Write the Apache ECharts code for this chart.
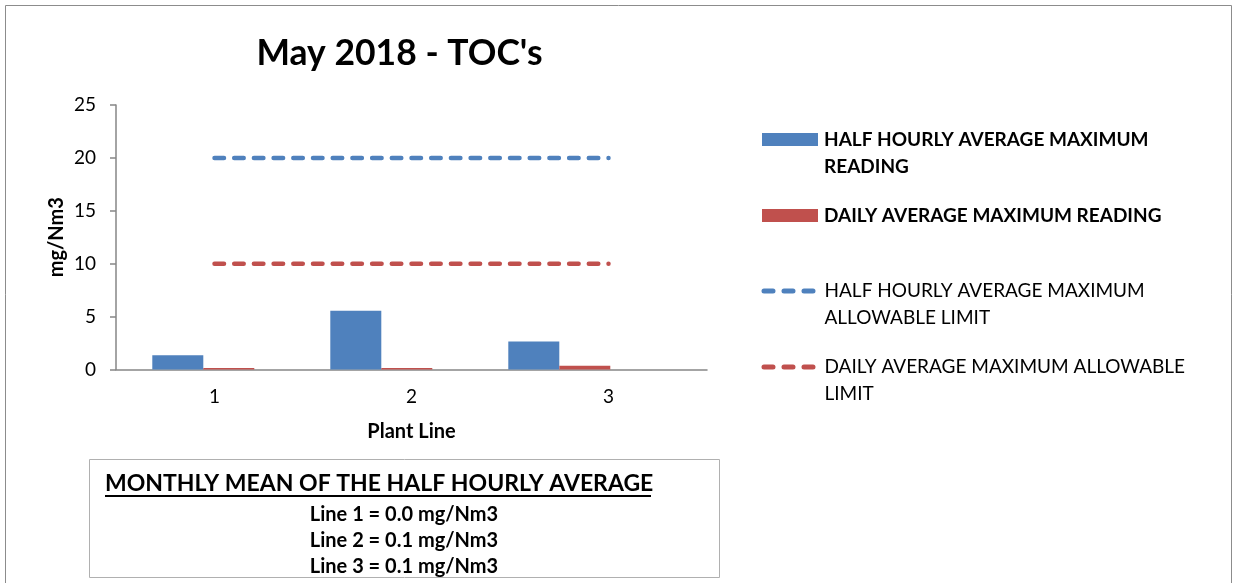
<!DOCTYPE html>
<html><head><meta charset="utf-8">
<script src="https://cdn.jsdelivr.net/npm/echarts@6/dist/echarts.min.js"></script>
<style>html,body{margin:0;padding:0;background:#fff}#c{width:1238px;height:583px}</style>
</head><body><div id="c"></div>
<script>
var categories = ['1', '2', '3'];
var halfHourlyMax = [1.35, 5.55, 2.65];
var dailyMax = [0.15, 0.15, 0.35];
var halfHourlyLimit = [20, 20, 20];
var dailyLimit = [10, 10, 10];
var yTicks = [0, 5, 10, 15, 20, 25];
var meanLines = ['Line 1 = 0.0 mg/Nm3', 'Line 2 = 0.1 mg/Nm3', 'Line 3 = 0.1 mg/Nm3'];
var seriesNames = ['HALF HOURLY AVERAGE MAXIMUM\nREADING', 'DAILY AVERAGE MAXIMUM READING', 'HALF HOURLY AVERAGE MAXIMUM\nALLOWABLE LIMIT', 'DAILY AVERAGE MAXIMUM ALLOWABLE\nLIMIT'];

var FONT = 'Lato';
var BLUE = '#4f81bd', RED = '#c0504d', AXIS = '#868686';
var chart = echarts.init(document.getElementById('c'));

function legendAt(name, top, bold, isBar, twoLine, color) {
  var l = {
    data: [isBar ? {name: name, icon: 'rect'} : {name: name, itemStyle: {opacity: 0, borderWidth: 0}}],
    left: isBar ? 757 : 756.5,
    top: top,
    itemWidth: isBar ? 56 : 49,
    itemHeight: 13,
    itemGap: 0,
    selectedMode: false,
    textStyle: {fontFamily: FONT, fontSize: 19, fontWeight: bold ? 'bold' : 'normal', color: '#000', lineHeight: 27,
      padding: [twoLine ? 27 : 0, 0, 0, isBar ? 1 : 6.5],
      rich: {x: {}}}
  };
  if (!isBar) l.lineStyle = {color: color, width: 5, type: [9, 11], cap: 'round'};
  return l;
}

var option = {
  animation: false,
  backgroundColor: '#fff',
  title: {
    text: "May 2018 - TOC's", left: 394.5, top: 31, textAlign: 'center',
    textStyle: {fontFamily: FONT, fontSize: 35.5, fontWeight: 'bold', color: '#000'}
  },
  legend: [
    legendAt(seriesNames[0], 94, true, true, true),
    legendAt(seriesNames[1], 197, true, true, false),
    legendAt(seriesNames[2], 245.5, false, false, true, BLUE),
    legendAt(seriesNames[3], 321.5, false, false, true, RED)
  ],
  grid: [
    {left: 116, right: 531, top: 105, bottom: 213.5, containLabel: false},
    {left: 114.3, right: 589.7, top: 105, bottom: 213.5, containLabel: false}
  ],
  xAxis: [{
    type: 'category', data: categories, gridIndex: 0,
    name: 'Plant Line', nameLocation: 'middle', nameGap: 52,
    nameTextStyle: {fontFamily: FONT, fontSize: 20, fontWeight: 'bold', color: '#000'},
    axisLine: {lineStyle: {color: AXIS, width: 1.5}},
    axisTick: {show: false},
    axisLabel: {fontFamily: FONT, fontSize: 19, color: '#000', margin: 18}
  }, {
    type: 'category', data: categories, gridIndex: 1, show: false
  }],
  yAxis: [{
    type: 'value', min: 0, max: 25, interval: 5, gridIndex: 0,
    name: 'mg/Nm3', nameLocation: 'middle', nameGap: 49, nameRotate: 90,
    nameTextStyle: {fontFamily: FONT, fontSize: 20, fontWeight: 'bold', color: '#000'},
    axisLine: {show: true, lineStyle: {color: AXIS, width: 1.5}},
    axisTick: {show: true, length: 6, lineStyle: {color: AXIS, width: 1.5}},
    splitLine: {show: false},
    axisLabel: {fontFamily: FONT, fontSize: 19, color: '#000', margin: 20,
      formatter: function (v) { return yTicks.indexOf(v) >= 0 ? String(v) : ''; }}
  }, {
    type: 'value', min: 0, max: 25, interval: 5, gridIndex: 1, show: false
  }],
  series: [
    {name: seriesNames[0], type: 'bar', data: halfHourlyMax, xAxisIndex: 1, yAxisIndex: 1,
      barWidth: 51, barGap: '0%', itemStyle: {color: BLUE}, z: 1},
    {name: seriesNames[1], type: 'bar', data: dailyMax, xAxisIndex: 1, yAxisIndex: 1,
      barWidth: 51, itemStyle: {color: RED}, z: 1},
    {name: seriesNames[2], type: 'line', data: halfHourlyLimit, symbol: 'none',
      lineStyle: {color: BLUE, width: 4.5, type: [9.5, 10.2], cap: 'round'}, itemStyle: {color: BLUE}},
    {name: seriesNames[3], type: 'line', data: dailyLimit, symbol: 'none',
      lineStyle: {color: RED, width: 4.5, type: [9.5, 10.2], cap: 'round'}, itemStyle: {color: RED}}
  ],
  graphic: [
    {type: 'rect', shape: {x: 5.5, y: 5.5, width: 1226, height: 600}, style: {fill: 'none', stroke: '#8c8c8c', lineWidth: 1}, silent: true},
    {type: 'rect', shape: {x: 89.5, y: 459.5, width: 630, height: 118}, style: {fill: '#fff', stroke: '#b0b0b0', lineWidth: 1}, silent: true},
    {type: 'text', x: 105, y: 484, style: {text: 'MONTHLY MEAN OF THE HALF HOURLY AVERAGE', fontFamily: FONT, fontSize: 23, fontWeight: 'bold', fill: '#000', align: 'left', verticalAlign: 'middle'}},
    {type: 'line', shape: {x1: 105, y1: 496, x2: 651, y2: 496}, style: {stroke: '#000', lineWidth: 1.8}},
    {type: 'text', x: 404, y: 515, style: {text: meanLines[0], fontFamily: FONT, fontSize: 20, fontWeight: 'bold', fill: '#000', align: 'center', verticalAlign: 'middle'}},
    {type: 'text', x: 404, y: 541, style: {text: meanLines[1], fontFamily: FONT, fontSize: 20, fontWeight: 'bold', fill: '#000', align: 'center', verticalAlign: 'middle'}},
    {type: 'text', x: 404, y: 567, style: {text: meanLines[2], fontFamily: FONT, fontSize: 20, fontWeight: 'bold', fill: '#000', align: 'center', verticalAlign: 'middle'}}
  ]
};
chart.setOption(option);
</script></body></html>
